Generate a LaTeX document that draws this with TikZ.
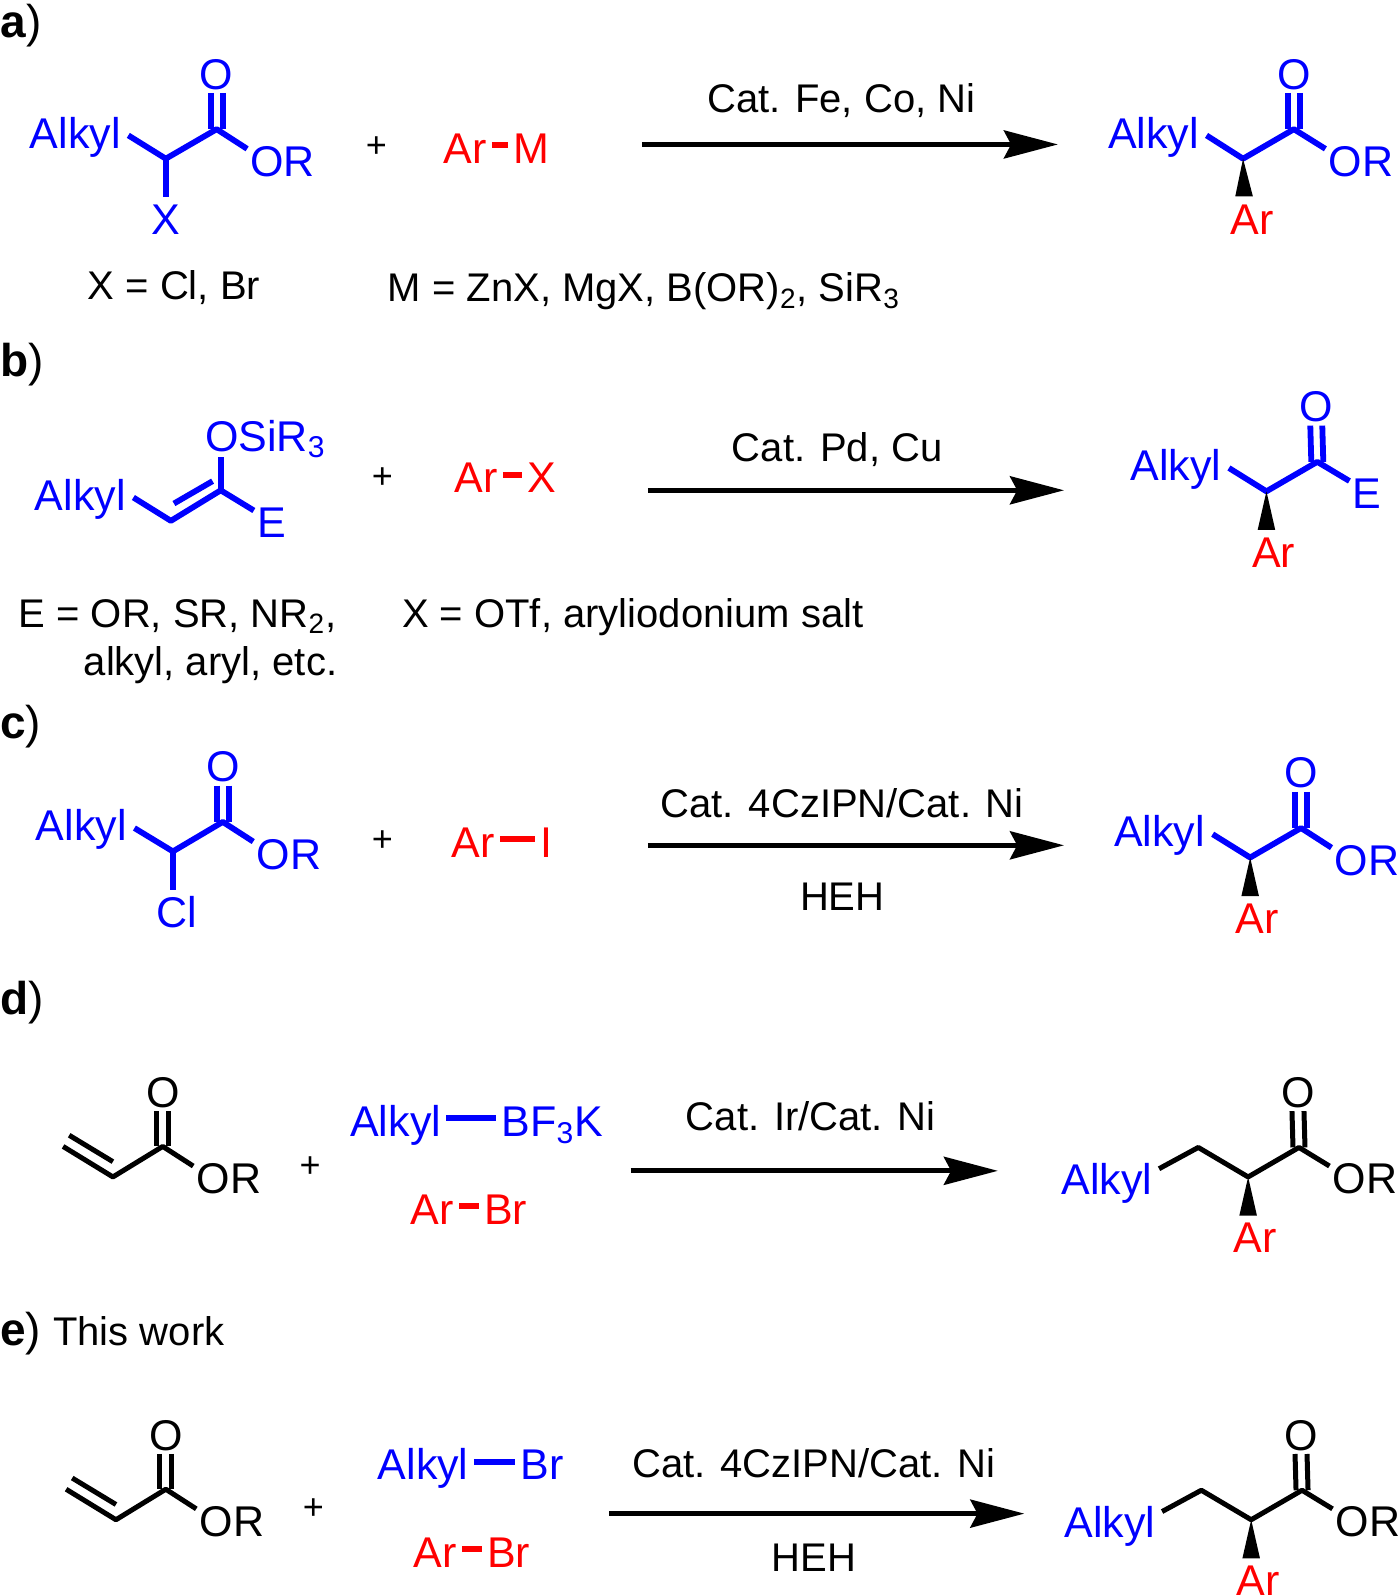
\documentclass[tikz,border=0pt]{standalone}
\usepackage{fontspec}
\setmainfont{Liberation Sans}
\usetikzlibrary{arrows.meta}
\tikzset{
  lbl/.style={inner sep=1.5pt,anchor=base,yshift=.2pt,font=\fontsize{21.5}{25}\selectfont},
  blu/.style={lbl,text=blue},
  rd/.style={lbl,text=red},
  blk/.style={lbl,text=black},
  txt/.style={lbl,yshift=-.6pt,font=\fontsize{20}{24}\selectfont},
  txtl/.style={txt,anchor=base west,inner sep=0pt},
  tag/.style={lbl,anchor=base west,inner sep=0pt,font=\fontsize{23}{26}\selectfont},
  plusg/.style={inner sep=0pt,font=\fontsize{18}{20}\selectfont},
  bond/.style={line width=2.5pt,line join=round},
  bbond/.style={bond,blue,line width=2.9pt},
  rbond/.style={red,line width=3pt,shorten <=1pt,shorten >=1pt},
  bdash/.style={rbond,blue,line width=2.8pt},
  rxn/.style={line width=2.5pt,-{Stealth[length=27pt,width=14pt,inset=3.6pt]}},
  wedge/.style={fill=black,draw=none}
}
\begin{document}
\begin{tikzpicture}[x=0.5087pt,y=-0.5087pt]
  \useasboundingbox (0,0) rectangle (1376,1568);
  % panel a
  \draw
    (0,37) node[tag] (atag){\textbf{a})}
    (74,146) node[blu] (a1alk){Alkyl}
    (213,88) node[blu] (a1o){O}
    (278,174) node[blu] (a1or){OR}
    (163,231) node[blu] (a1x){X}
    (370,145) node[plusg] (a1plus){+}
    (457,161) node[rd] (a1ar){Ar}
    (522,161) node[rd] (a1m){M}
    (827,110) node[txt] (acat){Cat. Fe, Co, Ni}
    (1134,146) node[blu] (a2alk){Alkyl}
    (1272,88) node[blu] (a2o){O}
    (1338,174) node[blu] (a2or){OR}
    (1231,231) node[rd] (a2ar){Ar}
    (171,294) node[txt] (axnote){X = Cl, Br}
    (381,296) node[txtl] (amnote){M = ZnX, MgX, B(OR)\textsubscript{2}, SiR\textsubscript{3}};
  \coordinate (a1ca) at (163,156);
  \coordinate (a1co) at (213,127);
  \coordinate (a1d) at (490,143);
  \coordinate (a2ca) at (1222,156);
  \coordinate (a2co) at (1272,127);
  \coordinate (a2w) at (1223,193);
  \coordinate (ast) at (631,142);
  \coordinate (aen) at (1040,142);
  \begin{scope}[bbond]
    \draw[shorten <=2.5pt] (a1alk.5) to (a1ca) to (a1co) to (a1or.160);
    \draw[shorten >=2.5pt] (a1ca) to (a1x.north);
    \draw ([xshift=-3pt]a1o.south) to ([xshift=-3pt]a1co);
    \draw ([xshift=3pt]a1o.south) to ([xshift=3pt]a1co);
    \draw[shorten <=2.5pt] (a2alk.5) to (a2ca) to (a2co) to (a2or.160);
    \draw ([xshift=-3pt]a2o.south) to ([xshift=-3pt]a2co);
    \draw ([xshift=3pt]a2o.south) to ([xshift=3pt]a2co);
  \end{scope}
  \draw[rbond] (a1ar.east |- a1d) to (a1m.west |- a1d);
  \fill[wedge] (a2ca) -- ([xshift=-4.4pt]a2w) -- ([xshift=4.4pt]a2w) -- cycle;
  \draw[rxn] (ast) to (aen);
  % panel b
  \draw
    (0,371) node[tag] (btag){\textbf{b})}
    (79,502) node[blu] (b1alk){Alkyl}
    (261,444) node[blu] (b1si){OSiR\textsubscript{3}}
    (267,529) node[blu] (b1e){E}
    (376,470) node[plusg] (b1plus){+}
    (468,485) node[rd] (b1ar){Ar}
    (533,485) node[rd] (b1x){X}
    (823,453) node[txt] (bcat){Cat. Pd, Cu}
    (1156,473) node[blu] (b2alk){Alkyl}
    (1294,415) node[blu] (b2o){O}
    (1344,500) node[blu] (b2e){E}
    (1252,558) node[rd] (b2ar){Ar}
    (18,616) node[txtl] (benote){E = OR, SR, NR\textsubscript{2},}
    (82,663) node[txtl] (benote2){alkyl, aryl, etc.}
    (395,616) node[txtl] (bxnote){X = OTf, aryliodonium salt};
  \coordinate (b1c1) at (168,512);
  \coordinate (b1c2) at (217,482);
  \coordinate (b1up) at (217,449);
  \coordinate (b1in1) at (171,495);
  \coordinate (b1in2) at (209,473);
  \coordinate (b1d) at (504,467);
  \coordinate (b2ca) at (1245,483);
  \coordinate (b2co) at (1295,454);
  \coordinate (b2w) at (1245,521);
  \coordinate (bst) at (637,482);
  \coordinate (ben) at (1046,482);
  \begin{scope}[bbond]
    \draw[shorten <=2.5pt] (b1alk.5) to (b1c1) to (b1c2) to (b1e.145);
    \draw (b1c2) to (b1up);
    \draw (b1in1) to (b1in2);
    \draw[shorten <=2.5pt] (b2alk.5) to (b2ca) to (b2co) to (b2e.145);
    \draw ([xshift=-3pt]b2o.south) to ([xshift=-3pt]b2co);
    \draw ([xshift=3pt]b2o.south) to ([xshift=3pt]b2co);
  \end{scope}
  \draw[rbond] (b1ar.east |- b1d) to (b1x.west |- b1d);
  \fill[wedge] (b2ca) -- ([xshift=-4.4pt]b2w) -- ([xshift=4.4pt]b2w) -- cycle;
  \draw[rxn] (bst) to (ben);
  % panel c
  \draw
    (0,726) node[tag] (ctag){\textbf{c})}
    (80,827) node[blu] (c1alk){Alkyl}
    (219,769) node[blu] (c1o){O}
    (284,855) node[blu] (c1or){OR}
    (174,912) node[blu] (c1cl){Cl}
    (376,827) node[plusg] (c1plus){+}
    (465,843) node[rd] (c1ar){Ar}
    (537,843) node[rd] (c1i){I}
    (828,803) node[txt] (ccat){Cat. 4CzIPN/Cat. Ni}
    (828,894) node[txt] (cheh){HEH}
    (1140,833) node[blu] (c2alk){Alkyl}
    (1279,775) node[blu] (c2o){O}
    (1344,861) node[blu] (c2or){OR}
    (1236,918) node[rd] (c2ar){Ar};
  \coordinate (c1ca) at (170,837);
  \coordinate (c1co) at (219,808);
  \coordinate (c1dn) at (170,875);
  \coordinate (c1d) at (510,825);
  \coordinate (c2ca) at (1229,843);
  \coordinate (c2co) at (1279,814);
  \coordinate (c2w) at (1229,881);
  \coordinate (cst) at (637,831);
  \coordinate (cen) at (1046,831);
  \begin{scope}[bbond]
    \draw[shorten <=2.5pt] (c1alk.5) to (c1ca) to (c1co) to (c1or.160);
    \draw (c1ca) to (c1dn);
    \draw ([xshift=-3pt]c1o.south) to ([xshift=-3pt]c1co);
    \draw ([xshift=3pt]c1o.south) to ([xshift=3pt]c1co);
    \draw[shorten <=2.5pt] (c2alk.5) to (c2ca) to (c2co) to (c2or.160);
    \draw ([xshift=-3pt]c2o.south) to ([xshift=-3pt]c2co);
    \draw ([xshift=3pt]c2o.south) to ([xshift=3pt]c2co);
  \end{scope}
  \draw[rbond,line width=2.8pt] (c1ar.east |- c1d) to (c1i.west |- c1d);
  \fill[wedge] (c2ca) -- ([xshift=-4.4pt]c2w) -- ([xshift=4.4pt]c2w) -- cycle;
  \draw[rxn] (cst) to (cen);
  % panel d
  \draw
    (0,998) node[tag] (dtag){\textbf{d})}
    (160,1089) node[blk] (d1o){O}
    (225,1174) node[blk] (d1or){OR}
    (305,1147) node[plusg] (d1plus){+}
    (389,1118) node[blu] (d1alk){Alkyl}
    (543,1118) node[blu] (d1bf){BF\textsubscript{3}K}
    (425,1204) node[rd] (d1ar){Ar}
    (497,1204) node[rd] (d1br){Br}
    (797,1111) node[txt] (dcat){Cat. Ir/Cat. Ni}
    (1088,1175) node[blu] (d2alk){Alkyl}
    (1276,1089) node[blk] (d2o){O}
    (1342,1174) node[blk] (d2or){OR}
    (1234,1232) node[rd] (d2ar){Ar};
  \coordinate (d1v1) at (62,1127);
  \coordinate (d1v2) at (111,1157);
  \coordinate (d1co) at (160,1127);
  \coordinate (d1in1) at (68,1116);
  \coordinate (d1in2) at (111,1142);
  \coordinate (d1da) at (464,1099);
  \coordinate (d1db) at (462,1186);
  \coordinate (d2c1) at (1178,1128);
  \coordinate (d2ca) at (1227,1157);
  \coordinate (d2co) at (1277,1128);
  \coordinate (d2w) at (1227,1195);
  \coordinate (dst) at (620,1151);
  \coordinate (den) at (981,1151);
  \begin{scope}[bond]
    \draw (d1v1) to (d1v2) to (d1co) to (d1or.160);
    \draw (d1in1) to (d1in2);
    \draw ([xshift=-3pt]d1o.south) to ([xshift=-3pt]d1co);
    \draw ([xshift=3pt]d1o.south) to ([xshift=3pt]d1co);
    \draw[shorten <=2pt] (d2alk.15) to (d2c1) to (d2ca) to (d2co) to (d2or.160);
    \draw ([xshift=-3pt]d2o.south) to ([xshift=-3pt]d2co);
    \draw ([xshift=3pt]d2o.south) to ([xshift=3pt]d2co);
  \end{scope}
  \draw[bdash] (d1alk.east |- d1da) to (d1bf.west |- d1da);
  \draw[rbond] (d1ar.east |- d1db) to (d1br.west |- d1db);
  \fill[wedge] (d2ca) -- ([xshift=-4.4pt]d2w) -- ([xshift=4.4pt]d2w) -- cycle;
  \draw[rxn] (dst) to (den);
  % panel e
  \draw
    (0,1323) node[tag] (etag){\textbf{e})}
    (52,1322) node[txtl] (ework){This work}
    (163,1426) node[blk] (e1o){O}
    (228,1511) node[blk] (e1or){OR}
    (308,1484) node[plusg] (e1plus){+}
    (416,1455) node[blu] (e1alk){Alkyl}
    (533,1455) node[blu] (e1bra){Br}
    (428,1541) node[rd] (e1ar){Ar}
    (500,1541) node[rd] (e1br){Br}
    (800,1452) node[txt] (ecat){Cat. 4CzIPN/Cat. Ni}
    (800,1544) node[txt] (eheh){HEH}
    (1091,1512) node[blu] (e2alk){Alkyl}
    (1279,1426) node[blk] (e2o){O}
    (1345,1511) node[blk] (e2or){OR}
    (1237,1569) node[rd] (e2ar){Ar};
  \coordinate (e1v1) at (65,1464);
  \coordinate (e1v2) at (114,1494);
  \coordinate (e1co) at (163,1464);
  \coordinate (e1in1) at (71,1453);
  \coordinate (e1in2) at (114,1479);
  \coordinate (e1da) at (487,1437);
  \coordinate (e1db) at (465,1523);
  \coordinate (e2c1) at (1181,1465);
  \coordinate (e2ca) at (1230,1494);
  \coordinate (e2co) at (1280,1465);
  \coordinate (e2w) at (1230,1532);
  \coordinate (est) at (599,1488);
  \coordinate (een) at (1007,1488);
  \begin{scope}[bond]
    \draw (e1v1) to (e1v2) to (e1co) to (e1or.160);
    \draw (e1in1) to (e1in2);
    \draw ([xshift=-3pt]e1o.south) to ([xshift=-3pt]e1co);
    \draw ([xshift=3pt]e1o.south) to ([xshift=3pt]e1co);
    \draw[shorten <=2pt] (e2alk.15) to (e2c1) to (e2ca) to (e2co) to (e2or.160);
    \draw ([xshift=-3pt]e2o.south) to ([xshift=-3pt]e2co);
    \draw ([xshift=3pt]e2o.south) to ([xshift=3pt]e2co);
  \end{scope}
  \draw[bdash] (e1alk.east |- e1da) to (e1bra.west |- e1da);
  \draw[rbond] (e1ar.east |- e1db) to (e1br.west |- e1db);
  \fill[wedge] (e2ca) -- ([xshift=-4.4pt]e2w) -- ([xshift=4.4pt]e2w) -- cycle;
  \draw[rxn] (est) to (een);
\end{tikzpicture}
\end{document}
